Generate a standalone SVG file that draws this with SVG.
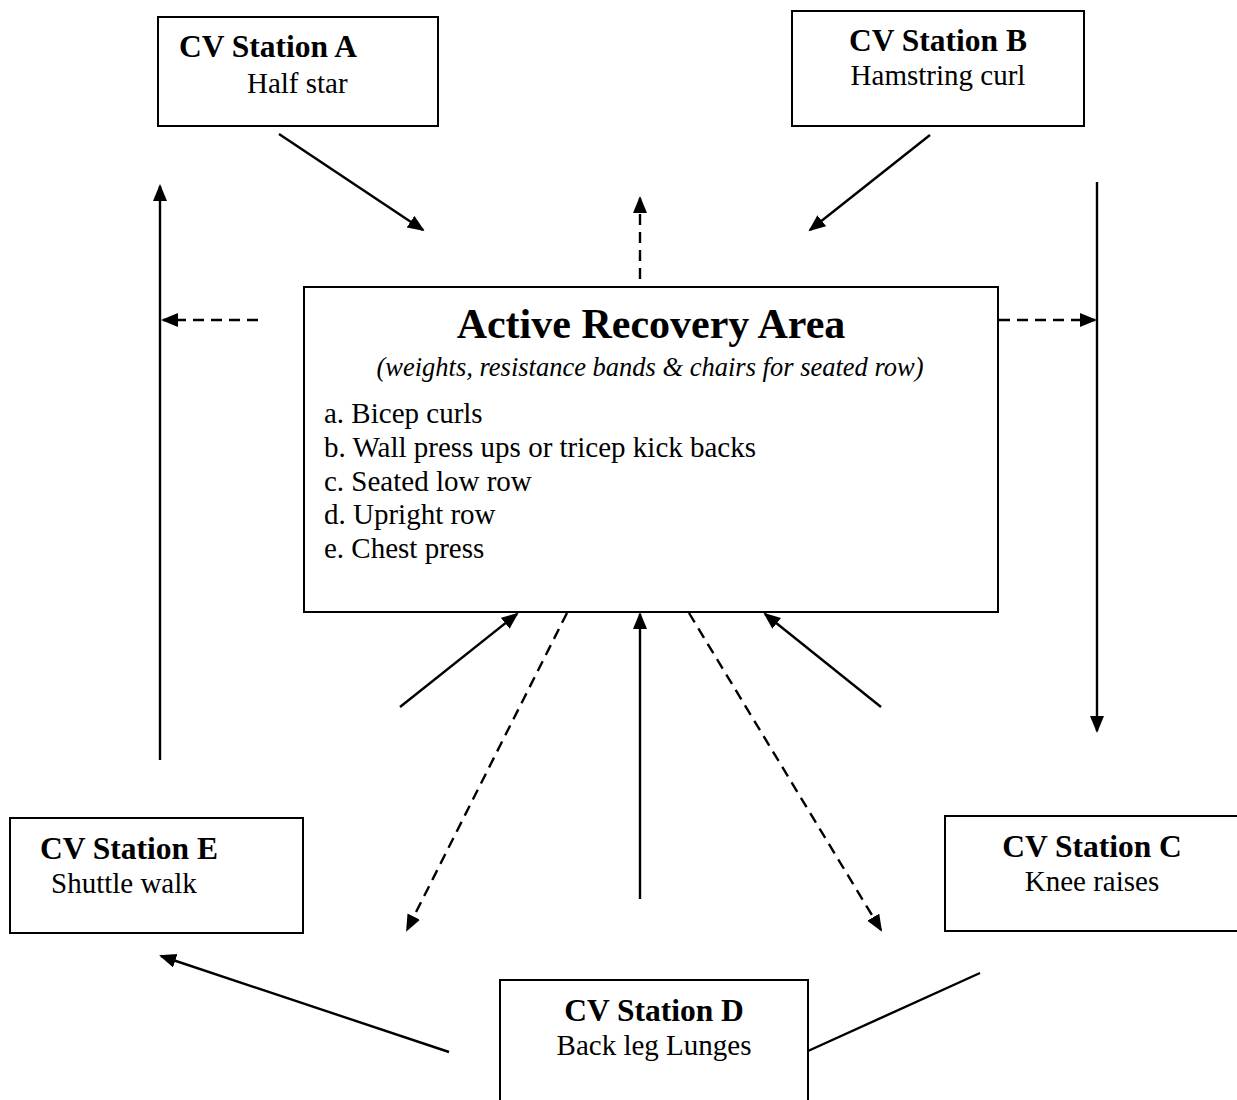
<svg xmlns="http://www.w3.org/2000/svg" width="1237" height="1100" viewBox="0 0 1237 1100">
<style>
.box{fill:#fff;stroke:#000;stroke-width:2}
.t{font-family:"Liberation Serif","Times New Roman",serif;fill:#000}
.h{font-weight:bold;font-size:31.5px}
.s{font-size:29px}
.c{text-anchor:middle}
.ln{stroke:#000;stroke-width:2.4;fill:none}
.d{stroke-dasharray:11 7}
</style>
<defs>
<marker id="ah" markerUnits="userSpaceOnUse" markerWidth="18" markerHeight="15" refX="15" refY="7" orient="auto">
<path d="M0,0 L17,7 L0,14 z" fill="#000"/>
</marker>
</defs>
<rect width="1237" height="1100" fill="#fff"/>

<g id="connectors">
<line class="ln" x1="279" y1="134" x2="423" y2="230" marker-end="url(#ah)"/>
<line class="ln" x1="930" y1="135" x2="810" y2="230" marker-end="url(#ah)"/>
<line class="ln d" x1="640" y1="279" x2="640" y2="198" marker-end="url(#ah)"/>
<line class="ln" x1="160" y1="760" x2="160" y2="186" marker-end="url(#ah)"/>
<line class="ln d" x1="258" y1="320" x2="163" y2="320" marker-end="url(#ah)"/>
<line class="ln" x1="1097" y1="182" x2="1097" y2="731" marker-end="url(#ah)"/>
<line class="ln d" x1="999" y1="320" x2="1095" y2="320" marker-end="url(#ah)"/>
<line class="ln" x1="400" y1="707" x2="517" y2="614" marker-end="url(#ah)"/>
<line class="ln d" x1="567" y1="613" x2="407" y2="930" marker-end="url(#ah)"/>
<line class="ln" x1="640" y1="899" x2="640" y2="614" marker-end="url(#ah)"/>
<line class="ln d" x1="689" y1="613" x2="881" y2="930" marker-end="url(#ah)"/>
<line class="ln" x1="881" y1="707" x2="765" y2="614" marker-end="url(#ah)"/>
<line class="ln" x1="449" y1="1052" x2="161" y2="956" marker-end="url(#ah)"/>
<line class="ln" x1="808" y1="1051" x2="980" y2="973"/>
</g>

<g id="station-a">
<rect class="box" x="158" y="17" width="280" height="109"/>
<text class="t h" x="179" y="57">CV Station A</text>
<text class="t s" x="247" y="93">Half star</text>
</g>

<g id="station-b">
<rect class="box" x="792" y="11" width="292" height="115"/>
<text class="t h c" x="938" y="51">CV Station B</text>
<text class="t s c" x="938" y="85">Hamstring curl</text>
</g>

<g id="recovery">
<rect class="box" x="304" y="287" width="694" height="325"/>
<text class="t c" x="651" y="338" font-size="42" font-weight="bold">Active Recovery Area</text>
<text class="t c" x="650" y="376" font-size="26.5" font-style="italic">(weights, resistance bands &amp; chairs for seated row)</text>
<text class="t s" x="324" y="423">a. Bicep curls</text>
<text class="t s" x="324" y="457">b. Wall press ups or tricep kick backs</text>
<text class="t s" x="324" y="491">c. Seated low row</text>
<text class="t s" x="324" y="524">d. Upright row</text>
<text class="t s" x="324" y="558">e. Chest press</text>
</g>

<g id="station-e">
<rect class="box" x="10" y="818" width="293" height="115"/>
<text class="t h" x="40" y="859">CV Station E</text>
<text class="t s" x="51" y="893">Shuttle walk</text>
</g>

<g id="station-c">
<rect class="box" x="945" y="816" width="300" height="115"/>
<text class="t h c" x="1092" y="857">CV Station C</text>
<text class="t s c" x="1092" y="891">Knee raises</text>
</g>

<g id="station-d">
<rect class="box" x="500" y="980" width="308" height="130"/>
<text class="t h c" x="654" y="1021">CV Station D</text>
<text class="t s c" x="654" y="1055">Back leg Lunges</text>
</g>
</svg>
